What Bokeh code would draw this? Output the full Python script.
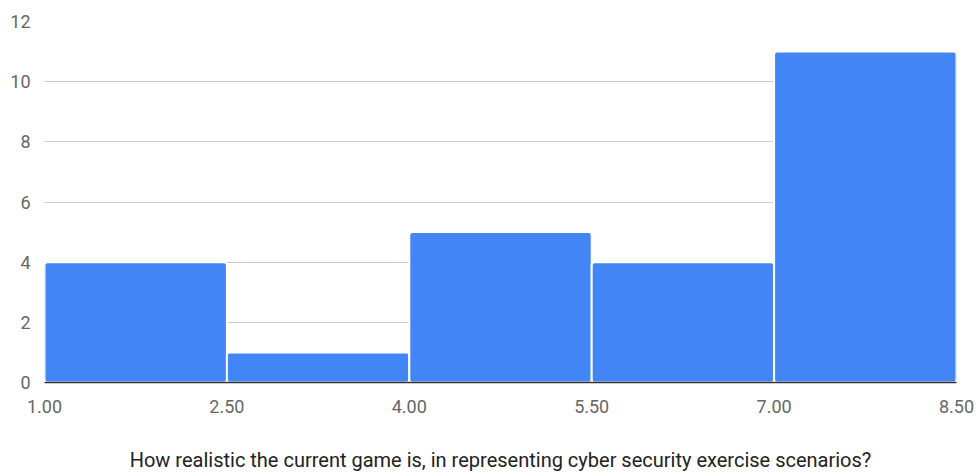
from bokeh.plotting import figure
from bokeh.models import ColumnDataSource, FixedTicker, NumeralTickFormatter, Range1d
from bokeh.embed import file_html
from bokeh.resources import INLINE

bin_left = [1.0, 2.5, 4.0, 5.5, 7.0]
bin_right = [2.5, 4.0, 5.5, 7.0, 8.5]
counts = [4, 1, 5, 4, 11]
x_ticks = [1.0, 2.5, 4.0, 5.5, 7.0, 8.5]
y_ticks = [0, 2, 4, 6, 8, 10, 12]
x_title = "How realistic the current game is, in representing cyber security exercise scenarios?"

src = ColumnDataSource(dict(left=bin_left, right=bin_right, top=counts, bottom=[0] * len(counts)))

p = figure(width=980, height=475, output_backend="svg", toolbar_location=None,
           x_range=Range1d(1.0, 8.5), y_range=Range1d(0, 12),
           min_border_left=44, min_border_right=24, min_border_top=21, min_border_bottom=93)
p.outline_line_color = None
p.background_fill_color = "white"
p.border_fill_color = "white"

p.quad(left="left", right="right", top="top", bottom="bottom", source=src,
       fill_color="#4285F4", line_color="white", line_width=2, border_radius=3)

p.xgrid.grid_line_color = None
p.ygrid.grid_line_color = "#cccccc"
p.ygrid.grid_line_width = 1
p.ygrid.ticker = FixedTicker(ticks=y_ticks)

xa = p.xaxis[0]
xa.ticker = FixedTicker(ticks=x_ticks)
xa.formatter = NumeralTickFormatter(format="0.00")
xa.axis_line_color = "#333333"
xa.axis_line_width = 1.5
xa.major_tick_line_color = None
xa.minor_tick_line_color = None
xa.major_label_text_font = "Roboto"
xa.major_label_text_font_size = "18px"
xa.major_label_text_color = "#666666"
xa.major_label_standoff = 11
xa.axis_label = x_title
xa.axis_label_text_font = "Roboto"
xa.axis_label_text_font_size = "20px"
xa.axis_label_text_font_style = "normal"
xa.axis_label_text_color = "#222222"
xa.axis_label_standoff = 32

ya = p.yaxis[0]
ya.ticker = FixedTicker(ticks=y_ticks)
ya.axis_line_color = None
ya.major_tick_line_color = None
ya.minor_tick_line_color = None
ya.major_label_text_font = "Roboto"
ya.major_label_text_font_size = "18px"
ya.major_label_text_color = "#666666"
ya.major_label_standoff = 8

open("out.html", "w").write(file_html(p, INLINE))
